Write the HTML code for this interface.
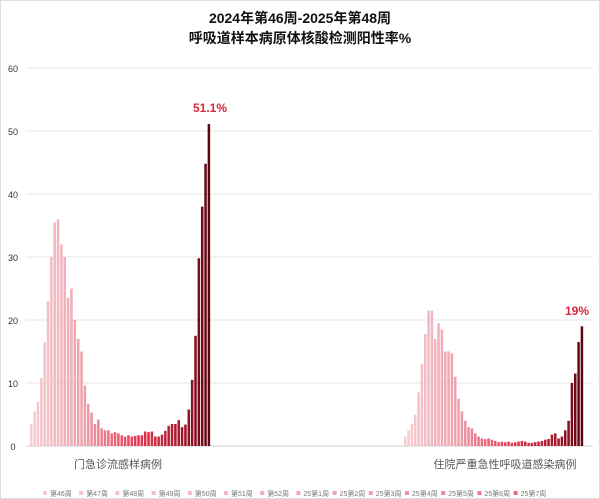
<!DOCTYPE html>
<html><head><meta charset="utf-8"><style>
html,body{margin:0;padding:0;background:#fff;}
#w{position:relative;width:598px;height:497px;border:1px solid #ddd;overflow:hidden;font-family:"Liberation Sans","Noto Sans CJK SC",sans-serif;}
</style></head><body><div id="w">
<svg id="s" width="598" height="497" xmlns="http://www.w3.org/2000/svg" font-family="Liberation Sans, Noto Sans CJK SC, sans-serif">
<text x="299" y="22" text-anchor="middle" font-size="14" font-weight="bold" fill="#111">2024年第46周-2025年第48周</text>
<text x="299" y="42" text-anchor="middle" font-size="14" font-weight="bold" fill="#111">呼吸道样本病原体核酸检测阳性率%</text>
<g id="grid"></g><g id="bars"></g>
<text x="209" y="111" text-anchor="middle" font-size="12" font-weight="bold" fill="#d9283c">51.1%</text>
<text x="576" y="314" text-anchor="middle" font-size="12" font-weight="bold" fill="#d9283c">19%</text>
<text x="117" y="467" text-anchor="middle" font-size="11" fill="#555">门急诊流感样病例</text>
<text x="504" y="467" text-anchor="middle" font-size="11" fill="#555">住院严重急性呼吸道感染病例</text>
<g id="leg" font-size="7" fill="#777"></g>
</svg></div>
<script>
var NS="http://www.w3.org/2000/svg";
function el(p,t,a,txt){var e=document.createElementNS(NS,t);for(var k in a)e.setAttribute(k,a[k]);if(txt)e.textContent=txt;document.getElementById(p).appendChild(e);}
var y0=445,u=6.3;
for(var i=0;i<=6;i++){var y=y0-i*10*u;el("grid","line",{x1:25,x2:592,y1:y,y2:y,stroke:i?"#e4e4e4":"#ccc","stroke-width":1});el("grid","text",{x:12,y:y+4,"text-anchor":"middle","font-size":"9",fill:"#333"},String(i*10));}
var L=[3.5,5.5,7,10.8,16.5,23,30,35.5,36,32,30,23.5,25,20,17,15,9.6,6.7,5.3,3.5,4.2,2.8,2.5,2.5,2,2.2,2,1.7,1.5,1.7,1.5,1.6,1.7,1.7,2.3,2.2,2.3,1.5,1.5,1.8,2.4,3.2,3.5,3.5,4.1,3,3.4,5.8,10.5,17.5,29.8,38,44.8,51.1];
var R=[1.5,2.5,3.5,5,8.5,13,17.8,21.5,21.5,17,19.5,18.5,15,15,14.7,11,7.5,5.5,4,3,2.8,2,1.5,1.2,1.1,1.2,1,0.8,0.6,0.7,0.6,0.7,0.5,0.6,0.7,0.8,0.7,0.5,0.5,0.6,0.7,0.8,1,1.1,1.8,2,1.2,1.5,2.5,4,10,11.5,16.5,19];
var stops=[[0,[247,205,210]],[0.3,[238,160,172]],[0.6,[228,55,82]],[0.85,[165,22,42]],[1,[95,5,18]]];
function col(t){for(var i=1;i<stops.length;i++){if(t<=stops[i][0]){var a=stops[i-1],b=stops[i],f=(t-a[0])/(b[0]-a[0]);return "rgb("+[0,1,2].map(function(k){return Math.round(a[1][k]+(b[1][k]-a[1][k])*f)}).join(",")+")";}}return "rgb(95,5,18)";}
function grp(d,x0,x1){var n=d.length,st=(x1-x0)/n;d.forEach(function(v,i){var h=v*u;el("bars","rect",{x:(x0+i*st).toFixed(2),y:(y0-h).toFixed(2),width:(st*0.75).toFixed(2),height:h.toFixed(2),fill:col(i/(n-1))});});}
grp(L,29,210);grp(R,403,583);
var lg=["第46周","第47周","第48周","第49周","第50周","第51周","第52周","25第1周","25第2周","25第3周","25第4周","25第5周","25第6周","25第7周"];
lg.forEach(function(s,i){var x=42+i*36.2;el("leg","rect",{x:x,y:490,width:4,height:4,fill:col(i/30)});el("leg","text",{x:x+7,y:495},s);});
</script></body></html>
